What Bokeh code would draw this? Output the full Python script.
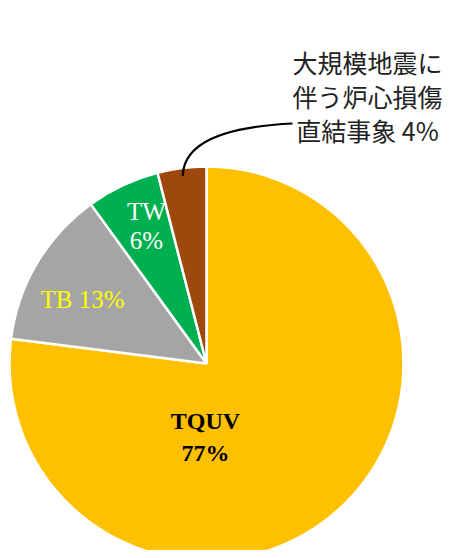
import math
from bokeh.plotting import figure
from bokeh.models import Range1d, ColumnDataSource
from bokeh.core.properties import value
from bokeh.embed import file_html
from bokeh.resources import INLINE

# ---- data ----
categories = ["TQUV", "TB", "TW", "大規模地震に伴う炉心損傷直結事象"]
shares = [77, 13, 6, 4]
colors = ["#FFC000", "#A5A5A5", "#00B050", "#9E480E"]
label_lines = [["TQUV", "77%"], ["TB 13%"], ["TW", "6%"], ["大規模地震に", "伴う炉心損傷", "直結事象 4%"]]
label_colors = ["#000000", "#FFFF00", "#FFFFFF", "#222222"]

W, H = 446, 550
# data coords: x = image x, y = 558 - image y
p = figure(width=W, height=H, output_backend="svg", toolbar_location=None,
           x_range=Range1d(0, 446), y_range=Range1d(8, 558),
           min_border=0, outline_line_color=None)
p.axis.visible = False
p.grid.visible = False
p.background_fill_color = "white"

cx, cy, R = 206, 195, 197
total = sum(shares)
starts, ends = [], []
a = math.pi / 2
for s in shares:
    e = a - 2 * math.pi * s / total   # clockwise from top
    starts.append(e)
    ends.append(a)
    a = e

src = ColumnDataSource(dict(start=starts, end=ends, color=colors, name=categories))
p.wedge(x=cx, y=cy, radius=R, start_angle="start", end_angle="end",
        fill_color="color", line_color="white", line_width=2.5, source=src)

serif = value("'Liberation Serif', serif")

def draw(lines, x, y0, dy, size, color, font, style="normal"):
    for i, t in enumerate(lines):
        p.text(x=[x], y=[y0 - i * dy], text=[t], text_font=font, text_font_size=size,
               text_color=color, text_align="center", text_baseline="middle",
               text_font_style=style)

# TQUV
draw(label_lines[0], 205, 558 - 420, 32, "24px", label_colors[0], serif, "bold")
# TB
draw(label_lines[1], 82, 558 - 299, 30, "25px", label_colors[1], serif)
# TW
draw(label_lines[2], 146, 558 - 211, 29, "25px", label_colors[2], serif)
# annotation
draw(label_lines[3], 367, 558 - 61, 34, "25px", label_colors[3], value("Noto Sans CJK JP"))

# leader line from the mid of the smallest slice
mid = (starts[3] + ends[3]) / 2
sx, sy = cx + 0.96 * R * math.cos(mid), cy + 0.96 * R * math.sin(mid)
ex, ey = 292, 558 - 123
p.quadratic(x0=[sx], y0=[sy], x1=[ex], y1=[ey], cx=[sx + 1], cy=[558 - 128],
            line_color="black", line_width=2.2)

open("out.html", "w").write(file_html(p, INLINE))
